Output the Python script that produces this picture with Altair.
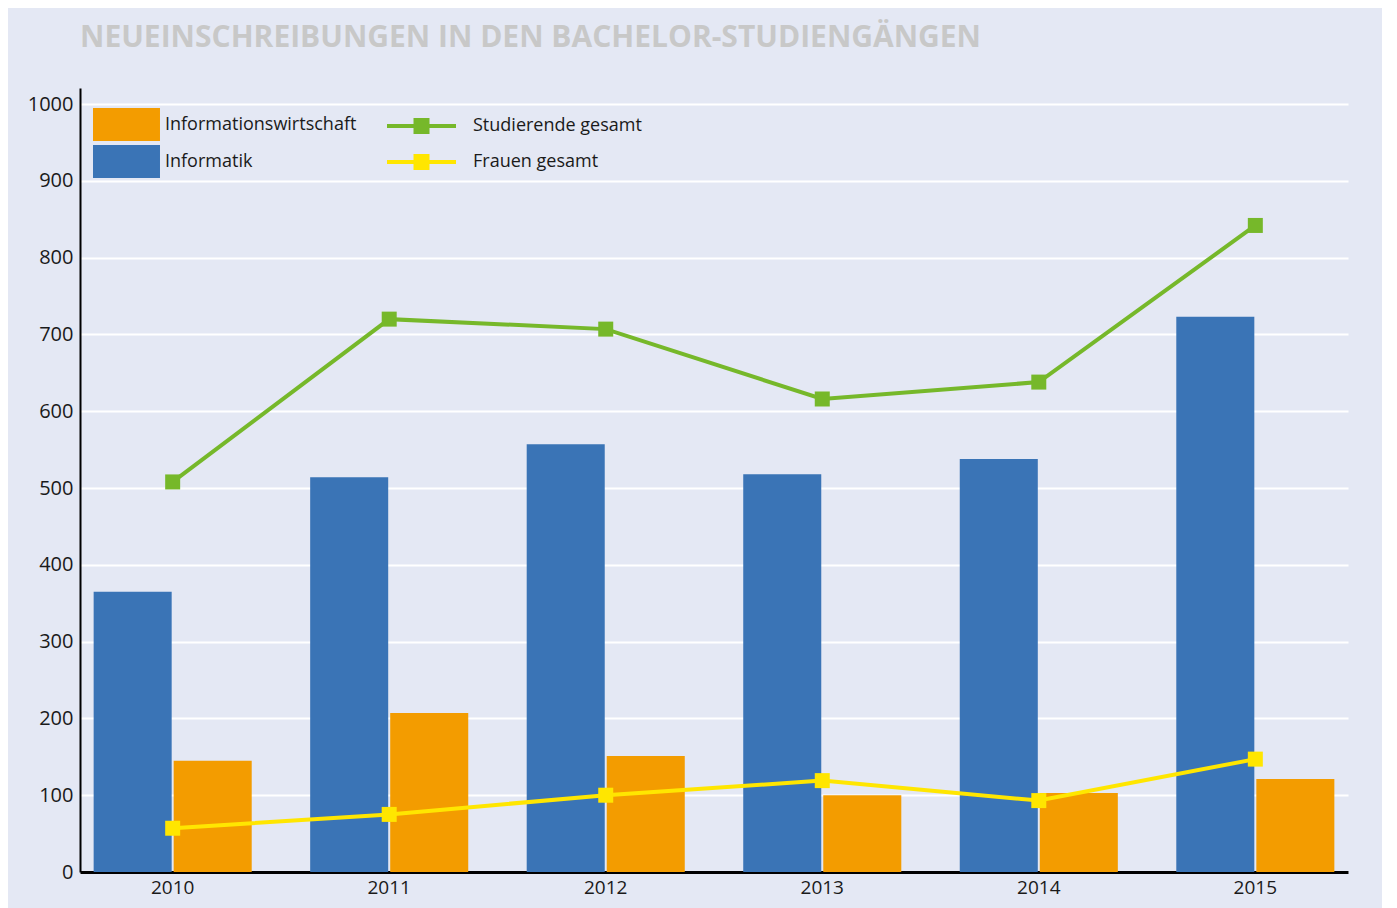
import altair as alt
import pandas as pd

# ---- data ----
years = ["2010", "2011", "2012", "2013", "2014", "2015"]
informatik = [365, 514, 557, 518, 538, 723]
informationswirtschaft = [145, 207, 151, 100, 103, 121]
studierende_gesamt = [508, 720, 707, 616, 638, 842]
frauen_gesamt = [57, 75, 100, 119, 93, 147]

bar_series = ["Informationswirtschaft", "Informatik"]
bar_colors = ["#f39c00", "#3a74b6"]
line_series = ["Studierende gesamt", "Frauen gesamt"]
line_colors = ["#76b82a", "#ffe600"]
y_ticks = [0, 100, 200, 300, 400, 500, 600, 700, 800, 900, 1000]

bars_df = pd.DataFrame({
    "Jahr": years * 2,
    "Serie": ["Informatik"] * len(years) + ["Informationswirtschaft"] * len(years),
    "Wert": informatik + informationswirtschaft,
})
lines_df = pd.DataFrame({
    "Jahr": years * 2,
    "Linie": ["Studierende gesamt"] * len(years) + ["Frauen gesamt"] * len(years),
    "Wert": studierende_gesamt + frauen_gesamt,
})

FONT = "Open Sans"
x_scale = alt.Scale(paddingInner=0.27, paddingOuter=0.063)
y_scale = alt.Scale(domain=[0, 1021], nice=False, zero=True)

x_enc = alt.X("Jahr:N", scale=x_scale, axis=alt.Axis(
    title=None, labelAngle=0, labelFont=FONT, labelFontSize=19, labelColor="#1a1a1a",
    tickSize=0, labelPadding=6, domainColor="#000000", domainWidth=3, grid=False))
y_enc = alt.Y("Wert:Q", scale=y_scale, axis=alt.Axis(
    title=None, values=y_ticks, format="d", labelFont=FONT, labelFontSize=20,
    labelColor="#1a1a1a", tickSize=0, labelPadding=7, domainColor="#000000", domainWidth=2,
    grid=True, gridColor="#ffffff", gridWidth=2))

bars = alt.Chart(bars_df).mark_bar().encode(
    x=x_enc,
    y=y_enc,
    xOffset=alt.XOffset("Serie:N", sort=["Informatik", "Informationswirtschaft"],
                        scale=alt.Scale(paddingInner=0.025)),
    color=alt.Color("Serie:N", scale=alt.Scale(domain=bar_series, range=bar_colors),
                    legend=alt.Legend(orient="none", legendX=13, legendY=20, title=None,
                                      symbolType="M-1,-1H3.06V1H-1Z", symbolSize=1089,
                                      symbolStrokeWidth=0, labelFont=FONT, labelFontSize=18,
                                      labelColor="#1a1a1a", labelOffset=39, rowPadding=4,
                                      labelLimit=400)),
)

line_layers = [
    alt.Chart(lines_df).transform_filter(alt.datum.Linie == name)
    .mark_line(strokeWidth=4, color=col)
    .encode(x=alt.X("Jahr:N", scale=x_scale), y=alt.Y("Wert:Q", scale=y_scale))
    for name, col in zip(line_series, line_colors)
]

points = alt.Chart(lines_df).mark_point(shape="square", filled=True, size=225, opacity=1).encode(
    x=alt.X("Jahr:N", scale=x_scale),
    y=alt.Y("Wert:Q", scale=y_scale),
    fill=alt.Fill("Linie:N", scale=alt.Scale(domain=line_series, range=line_colors),
                  legend=alt.Legend(orient="none", legendX=306, legendY=29, title=None,
                                    symbolType="M-1,-0.25H7.625V0.25H-1Z M2.3125,-1H4.3125V1H2.3125Z",
                                    symbolSize=256, symbolStrokeWidth=0, labelFont=FONT,
                                    labelFontSize=18, labelColor="#1a1a1a", labelOffset=69,
                                    rowPadding=18, labelLimit=400)),
)

chart = alt.layer(bars, *line_layers, points).resolve_scale(color="independent").properties(
    width=1268,
    height=784,
    background="#e4e8f4",
    padding={"left": 72, "top": 80, "right": 34, "bottom": 36},
    autosize=alt.AutoSizeParams(type="none"),
    title=alt.TitleParams("NEUEINSCHREIBUNGEN IN DEN BACHELOR-STUDIENGÄNGEN", anchor="start",
                          frame="group", font=FONT, fontSize=30, fontWeight="bold",
                          color="#c8c8c8", baseline="alphabetic", offset=11),
).configure_view(stroke=None)

chart.save("out.html", embed_options={"renderer": "svg", "actions": False})
